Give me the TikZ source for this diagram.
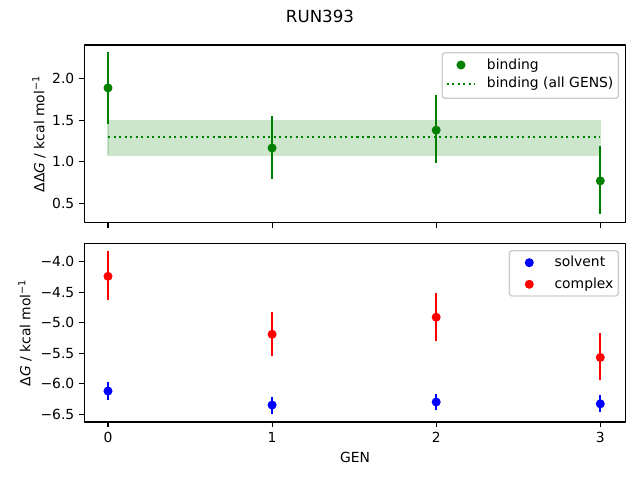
\documentclass[tikz,border=0pt]{standalone}
\usepackage{fontspec}
\setmainfont{DejaVu Sans}
\usetikzlibrary{arrows}
\definecolor{mplgreen}{rgb}{0,0.5,0}

\begin{document}
\begin{tikzpicture}[line cap=butt,line join=round,x=0.72pt,y=-0.72pt,
  frame/.style={line width=0.8pt},
  tick/.style={line width=0.8pt},
  lab/.style={font=\fontsize{10}{12}\selectfont,inner sep=0pt},
  dot/.style={circle,fill,inner sep=0pt,minimum size=6.5pt},
  bar/.style={line width=1.5pt},
  dots/.style={line width=1.5pt,dash pattern=on 1.5pt off 2.475pt},
  legbox/.style={draw=black!20,fill=white,fill opacity=0.8,rounded corners=2pt,line width=1pt}]
\useasboundingbox (0,0) rectangle (640,480);
\node [lab,font=\fontsize{12}{14}\selectfont] (title) at (320,16) {RUN393};
%
% upper axes: binding
\begin{scope}[shift={(108,245.5)}, x=118.15pt, y=60.19pt]
\fill [mplgreen,fill opacity=0.2,draw=mplgreen,draw opacity=0.2,line width=1pt] (0,1.079) rectangle (3,1.494);
\draw [dots,mplgreen] (0,1.294) -- (3,1.294);
\draw [bar,mplgreen] (0,1.458) -- (0,2.31);
\draw [bar,mplgreen] (1,0.797) -- (1,1.554);
\draw [bar,mplgreen] (2,0.983) -- (2,1.805);
\draw [bar,mplgreen] (3,0.378) -- (3,1.195);
\node [dot,mplgreen] (b0) at (0,1.885) {};
\node [dot,mplgreen] (b1) at (1,1.167) {};
\node [dot,mplgreen] (b2) at (2,1.38) {};
\node [dot,mplgreen] (b3) at (3,0.773) {};
\end{scope}
\draw [frame] (84.3,45) rectangle (625.7,222.7);
\draw [tick] (108,222.7)--(108,227.6) (272.1,222.7)--(272.1,227.6) (436.2,222.7)--(436.2,227.6) (600.3,222.7)--(600.3,227.6);
\draw [tick] (84.3,78.3)--(79.4,78.3) (84.3,120.1)--(79.4,120.1) (84.3,161.9)--(79.4,161.9) (84.3,203.7)--(79.4,203.7);
\node [lab,anchor=east] (ta20) at (74.6,78.3) {2.0};
\node [lab,anchor=east] (ta15) at (74.6,120.1) {1.5};
\node [lab,anchor=east] (ta10) at (74.6,161.9) {1.0};
\node [lab,anchor=east] (ta05) at (74.6,203.7) {0.5};
\node [lab,rotate=90] (ylabtop) at (39,134) {ΔΔ\textit{G} / kcal mol\textsuperscript{−1}};
% legend
\draw [legbox] (442.3,52.7) rectangle (618.3,98.3);
\node [dot,mplgreen] (legb) at (461,65) {};
\node [lab,anchor=base west] (legbt) at (486.7,69) {binding};
\draw [dots,mplgreen] (446.7,83.7) -- (475,83.7);
\node [lab,anchor=base west] (legat) at (486.7,87.7) {binding (all GENS)};
%
% lower axes: solvent and complex
\begin{scope}[shift={(108,17.7)}, x=118.15pt, y=43.92pt]
\draw [bar,red] (0,-4.62) -- (0,-3.82);
\draw [bar,red] (1,-5.54) -- (1,-4.82);
\draw [bar,red] (2,-5.30) -- (2,-4.51);
\draw [bar,red] (3,-5.94) -- (3,-5.17);
\draw [bar,blue] (0,-6.26) -- (0,-5.97);
\draw [bar,blue] (1,-6.49) -- (1,-6.21);
\draw [bar,blue] (2,-6.43) -- (2,-6.17);
\draw [bar,blue] (3,-6.46) -- (3,-6.18);
\node [dot,red] (c0) at (0,-4.24) {};
\node [dot,red] (c1) at (1,-5.19) {};
\node [dot,red] (c2) at (2,-4.91) {};
\node [dot,red] (c3) at (3,-5.57) {};
\node [dot,blue] (s0) at (0,-6.12) {};
\node [dot,blue] (s1) at (1,-6.35) {};
\node [dot,blue] (s2) at (2,-6.30) {};
\node [dot,blue] (s3) at (3,-6.33) {};
\end{scope}
\draw [frame] (84.3,243.3) rectangle (625.7,422);
\draw [tick] (108,422)--(108,426.9) (272.1,422)--(272.1,426.9) (436.2,422)--(436.2,426.9) (600.3,422)--(600.3,426.9);
\draw [tick] (84.3,261.7)--(79.4,261.7) (84.3,292.2)--(79.4,292.2) (84.3,322.7)--(79.4,322.7) (84.3,353.2)--(79.4,353.2) (84.3,383.7)--(79.4,383.7) (84.3,414.2)--(79.4,414.2);
\node [lab,anchor=east] (tb40) at (74.6,261.7) {−4.0};
\node [lab,anchor=east] (tb45) at (74.6,292.2) {−4.5};
\node [lab,anchor=east] (tb50) at (74.6,322.7) {−5.0};
\node [lab,anchor=east] (tb55) at (74.6,353.2) {−5.5};
\node [lab,anchor=east] (tb60) at (74.6,383.7) {−6.0};
\node [lab,anchor=east] (tb65) at (74.6,414.2) {−6.5};
\node [lab,anchor=north] (tx0) at (108,431.7) {0};
\node [lab,anchor=north] (tx1) at (272.1,431.7) {1};
\node [lab,anchor=north] (tx2) at (436.2,431.7) {2};
\node [lab,anchor=north] (tx3) at (600.3,431.7) {3};
\node [lab] (xlab) at (355,457.7) {GEN};
\node [lab,rotate=90] (ylabbot) at (25,332.7) {Δ\textit{G} / kcal mol\textsuperscript{−1}};
% legend
\draw [legbox] (509.3,250.7) rectangle (618.3,296);
\node [dot,blue] (legs) at (529.3,262.7) {};
\node [lab,anchor=base west] (legst) at (554.3,266.7) {solvent};
\node [dot,red] (legc) at (529.3,284.3) {};
\node [lab,anchor=base west] (legct) at (554.3,288.3) {complex};
\end{tikzpicture}
\end{document}
